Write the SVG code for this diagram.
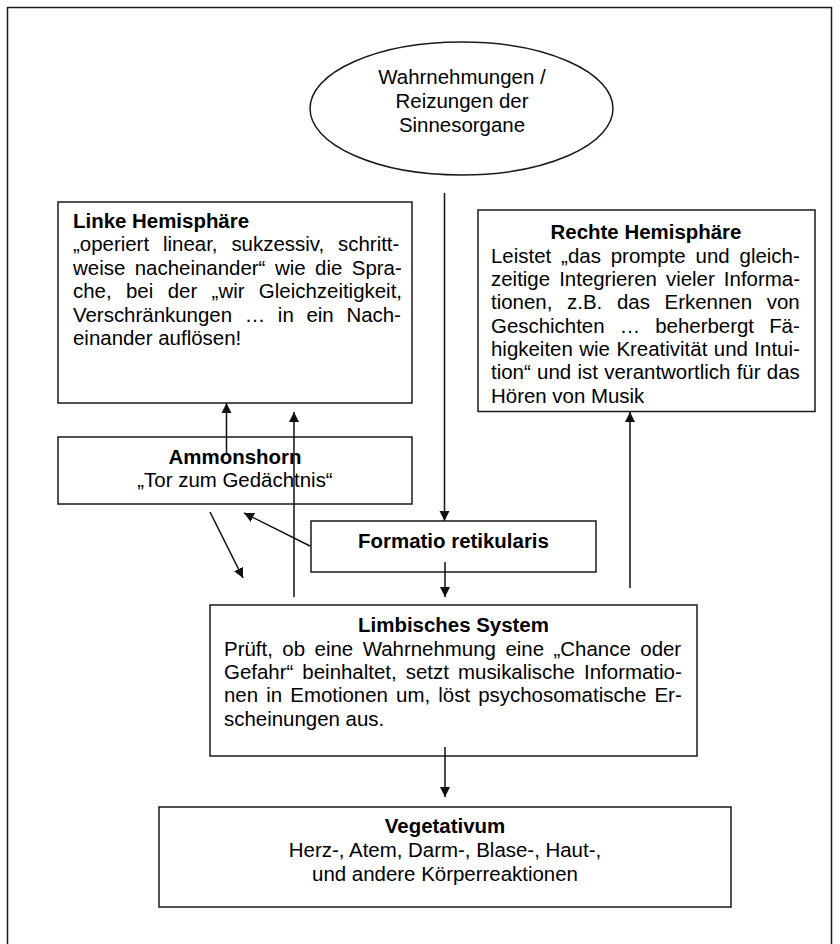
<svg xmlns="http://www.w3.org/2000/svg" width="840" height="944" viewBox="0 0 840 944">
<style>
  .t { font-family: "Liberation Sans", Arial, sans-serif; font-size: 20.45px; fill: #000; }
  .b { font-weight: bold; }
  .c { text-anchor: middle; }
  .box { fill: #fff; stroke: #1a1a1a; stroke-width: 1.5; }
  .con { fill: none; stroke: #111; stroke-width: 1.5; }
</style>
<defs>
  <marker id="ah" viewBox="0 0 10 10" refX="10" refY="5" markerWidth="10" markerHeight="11" markerUnits="userSpaceOnUse" orient="auto">
    <path d="M0,0 L10,5 L0,10 Z" fill="#111"/>
  </marker>
</defs>
<rect x="0" y="0" width="840" height="944" fill="#fff"/>
<rect id="frame" x="7.5" y="7.5" width="824" height="1000" fill="none" stroke="#1a1a1a" stroke-width="1.5"/>

<g id="wahrnehmungen">
  <ellipse class="box" cx="461.5" cy="108.5" rx="151.5" ry="66.5"/>
  <text class="t c" x="462" y="84">Wahrnehmungen /</text>
  <text class="t c" x="462" y="108">Reizungen der</text>
  <text class="t c" x="462" y="132">Sinnesorgane</text>
</g>

<g id="linke-hemisphaere">
  <rect class="box" x="58" y="202" width="354" height="201"/>
  <text class="t b" x="73" y="227.5">Linke Hemisphäre</text>
  <text class="t" x="73" y="251" word-spacing="8.2">„operiert linear, sukzessiv, schritt-</text>
  <text class="t" x="73" y="274.5" word-spacing="3.8">weise nacheinander“ wie die Spra-</text>
  <text class="t" x="73" y="298" word-spacing="8.7">che, bei der „wir Gleichzeitigkeit,</text>
  <text class="t" x="73" y="321.5" word-spacing="7">Verschränkungen … in ein Nach-</text>
  <text class="t" x="73" y="345">einander auflösen!</text>
</g>

<g id="rechte-hemisphaere">
  <rect class="box" x="478" y="210" width="337" height="201.5"/>
  <text class="t b c" x="646" y="239.3">Rechte Hemisphäre</text>
  <text class="t" x="491" y="262.6" word-spacing="4.2">Leistet „das prompte und gleich-</text>
  <text class="t" x="491" y="286" word-spacing="3.4">zeitige Integrieren vieler Informa-</text>
  <text class="t" x="491" y="309.3" word-spacing="9">tionen, z.B. das Erkennen von</text>
  <text class="t" x="491" y="332.7" word-spacing="9.4">Geschichten … beherbergt Fä-</text>
  <text class="t" x="491" y="356" word-spacing="0.8">higkeiten wie Kreativität und Intui-</text>
  <text class="t" x="491" y="379.4" word-spacing="0.65">tion“ und ist verantwortlich für das</text>
  <text class="t" x="491" y="402.7">Hören von Musik</text>
</g>

<g id="ammonshorn">
  <rect class="box" x="58" y="437" width="354" height="67"/>
  <text class="t b c" x="235" y="464">Ammonshorn</text>
  <text class="t c" x="235" y="487.3">„Tor zum Gedächtnis“</text>
</g>

<g id="formatio">
  <rect class="box" x="311" y="521" width="285" height="51"/>
  <text class="t b c" x="453.5" y="547.7">Formatio retikularis</text>
</g>

<g id="limbisches-system">
  <rect class="box" x="210" y="605" width="487" height="151"/>
  <text class="t b c" x="453.5" y="632">Limbisches System</text>
  <text class="t" x="224" y="655.5" word-spacing="3.8">Prüft, ob eine Wahrnehmung eine „Chance oder</text>
  <text class="t" x="224" y="679" word-spacing="3.4">Gefahr“ beinhaltet, setzt musikalische Informatio-</text>
  <text class="t" x="224" y="702.3" word-spacing="2.45">nen in Emotionen um, löst psychosomatische Er-</text>
  <text class="t" x="224" y="725.7">scheinungen aus.</text>
</g>

<g id="vegetativum">
  <rect class="box" x="159" y="807" width="572" height="100"/>
  <text class="t b c" x="445" y="833">Vegetativum</text>
  <text class="t c" x="445" y="857">Herz-, Atem, Darm-, Blase-, Haut-,</text>
  <text class="t c" x="445" y="880.5">und andere Körperreaktionen</text>
</g>

<g id="connectors">
  <line class="con" x1="444.5" y1="193" x2="444.5" y2="521" marker-end="url(#ah)"/>
  <line class="con" x1="226.5" y1="453" x2="226.5" y2="403" marker-end="url(#ah)"/>
  <line class="con" x1="294" y1="597" x2="294" y2="412" marker-end="url(#ah)"/>
  <line class="con" x1="310" y1="546" x2="244" y2="513" marker-end="url(#ah)"/>
  <line class="con" x1="210" y1="512" x2="243" y2="578" marker-end="url(#ah)"/>
  <line class="con" x1="445" y1="562" x2="445" y2="597" marker-end="url(#ah)"/>
  <line class="con" x1="630" y1="588" x2="630" y2="412" marker-end="url(#ah)"/>
  <line class="con" x1="445" y1="747" x2="445" y2="797" marker-end="url(#ah)"/>
</g>
</svg>
